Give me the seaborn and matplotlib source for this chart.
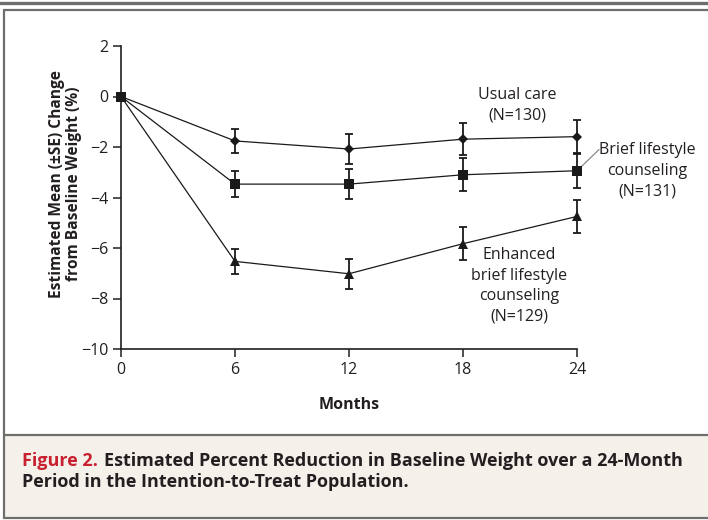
import numpy as np
import pandas as pd
import matplotlib
matplotlib.use("Agg")
import matplotlib.pyplot as plt
import seaborn as sns
from matplotlib.lines import Line2D
from matplotlib.patches import Rectangle

# ---- data ----
months = [0, 6, 12, 18, 24]
usual_care = [0.0, -1.76, -2.08, -1.69, -1.59]
usual_care_se = [0.0, 0.46, 0.60, 0.63, 0.66]
brief = [0.0, -3.47, -3.47, -3.10, -2.94]
brief_se = [0.0, 0.50, 0.58, 0.65, 0.67]
enhanced = [0.0, -6.53, -7.02, -5.83, -4.75]
enhanced_se = [0.0, 0.50, 0.60, 0.65, 0.65]
group_names = ["Usual care", "Brief lifestyle counseling",
               "Enhanced brief lifestyle counseling"]
y_ticks = [2, 0, -2, -4, -6, -8, -10]
x_ticks = [0, 6, 12, 18, 24]

sns.set_theme(style="ticks")
plt.rcParams['font.family'] = ['Open Sans', 'DejaVu Sans']

df = pd.DataFrame({
    "Months": months * 3,
    "Change": usual_care + brief + enhanced,
    "SE": usual_care_se + brief_se + enhanced_se,
    "Group": np.repeat(group_names, len(months)),
})

fig = plt.figure(figsize=(7.08, 5.2), dpi=100, facecolor='white')

# ---- frame and caption panel ----
edge = '#6e6e6e'
W, H = 708, 520
fig.patches.append(Rectangle((4 / W, 2 / H), 1, 83 / H,
                             transform=fig.transFigure, facecolor='#f4f1eb',
                             edgecolor='none', zorder=0))
for (x0, y0, x1, y1, lw) in [(0, 3, W, 3, 2.4), (4, 10, W, 10, 1.6),
                             (4, 10, 4, 518, 1.6), (4, 518, W, 518, 1.6),
                             (4, 435, W, 435, 1.6)]:
    fig.add_artist(Line2D([x0 / W, x1 / W], [1 - y0 / H, 1 - y1 / H],
                          transform=fig.transFigure, color=edge, lw=lw))

ax = fig.add_axes([121 / W, 1 - 349 / H, (577 - 121) / W, (349 - 46) / H])
ax.set_facecolor('white')

markers = {group_names[0]: 'D', group_names[1]: 's', group_names[2]: '^'}
for g in group_names:
    sub = df[df.Group == g]
    ax.errorbar(sub.Months, sub.Change, yerr=sub.SE, fmt='none',
                ecolor='#1a1a1a', elinewidth=1.3, capsize=3, capthick=1.3,
                clip_on=False, zorder=3)
sns.lineplot(data=df, x="Months", y="Change", hue="Group", style="Group",
             markers=markers, dashes=False, palette=['#1a1a1a'] * 3,
             linewidth=0.9, markersize=7, markeredgewidth=0,
             legend=False, ax=ax, clip_on=False, zorder=4)
# diamonds are drawn a bit smaller in the original
for line in ax.lines:
    if line.get_marker() == 'D':
        line.set_markersize(5)

ax.set_xlim(0, 24)
ax.set_ylim(-10, 2)
ax.set_xticks(x_ticks)
ax.set_yticks(y_ticks)
ax.set_yticklabels([str(t).replace('-', '\u2212') for t in y_ticks])
ax.tick_params(direction='out', length=6, width=1.1, labelsize=11.5,
               colors='#231f20', pad=3)
sns.despine(ax=ax)
for s in ['left', 'bottom']:
    ax.spines[s].set_linewidth(1.2)
    ax.spines[s].set_color('#231f20')

ax.set_xlabel("Months", fontsize=11.5, fontweight='bold', color='#231f20',
              labelpad=14)
ax.set_ylabel("Estimated Mean (\u00b1SE) Change\nfrom Baseline Weight (%)",
              fontsize=11.2, fontweight='bold', color='#231f20',
              linespacing=1.1)
ax.yaxis.set_label_coords(-0.0855, 0.545)

# ---- group labels ----
tk = dict(fontsize=11.5, color='#231f20', ha='center', va='center',
          linespacing=1.38)
ax.text(20.84, -0.36, "Usual care\n(N=130)", **tk)
ax.text(20.95, -7.5, "Enhanced\nbrief lifestyle\ncounseling\n(N=129)", **tk)
ax.text(27.7, -2.94, "Brief lifestyle\ncounseling\n(N=131)",
        clip_on=False, **tk)
ax.plot([24.2, 25.16], [-2.8, -2.1], color='#8a8a8a', lw=0.9,
        clip_on=False)

# ---- caption ----
cap = dict(fontsize=13, fontweight='bold', va='baseline')
t1 = fig.text(22 / W, 1 - 466 / H, "Figure 2.", color='#c8202f', **cap)
fig.canvas.draw()
bb = t1.get_window_extent()
fig.text(bb.x1 / W + 6 / W, 1 - 466 / H,
         "Estimated Percent Reduction in Baseline Weight over a 24-Month",
         color='#231f20', **cap)
fig.text(22 / W, 1 - 487 / H, "Period in the Intention-to-Treat Population.",
         color='#231f20', **cap)

fig.savefig("out.png", dpi=100, facecolor='white')
